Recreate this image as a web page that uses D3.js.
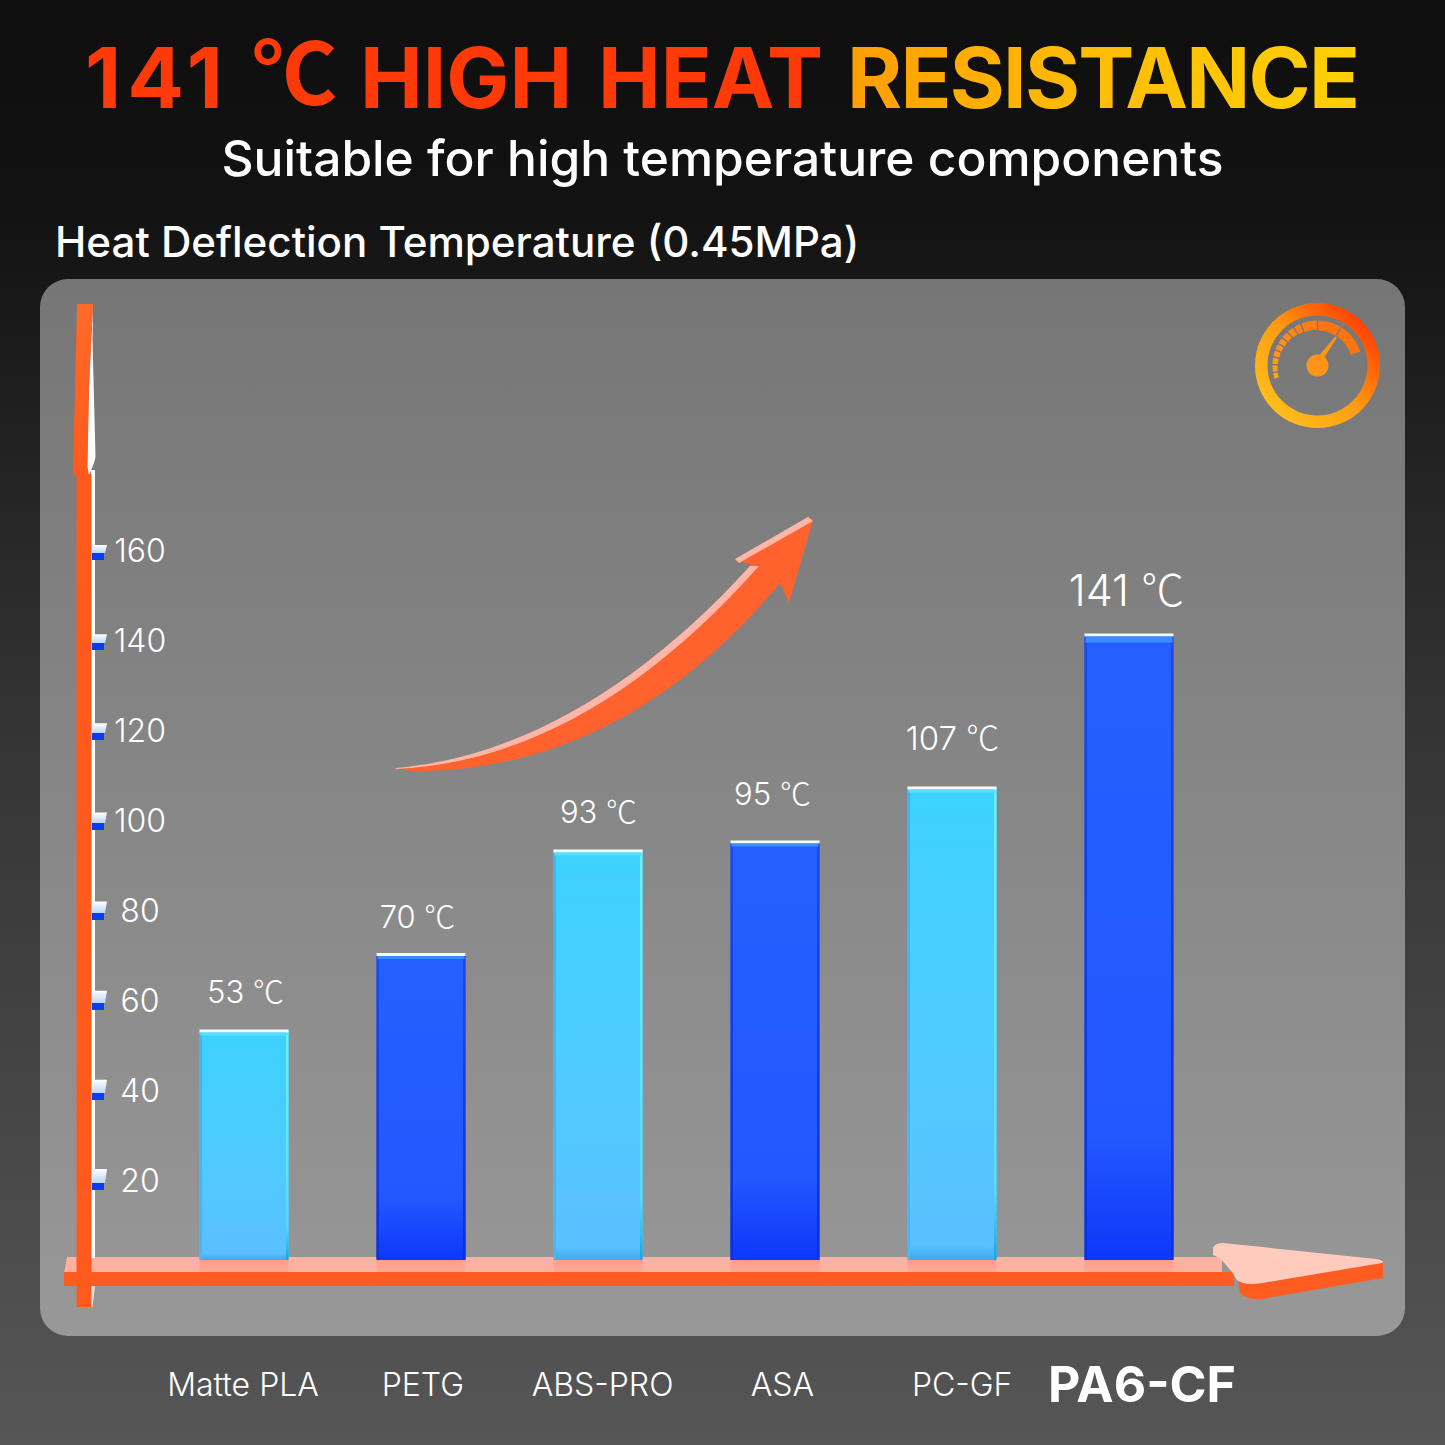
<!DOCTYPE html>
<html>
<head>
<meta charset="utf-8">
<script src="https://cdn.jsdelivr.net/npm/d3@7"></script>
<style>
html,body{margin:0;padding:0;background:#111;}
svg{display:block;}
text{font-family:Inter,"Noto Sans CJK SC",sans-serif;fill:#fff;}
.deg{font-family:"Noto Sans CJK SC",sans-serif;}
</style>
</head>
<body>
<svg id="chart" width="1445" height="1445"></svg>
<script>
// Filament heat deflection temperatures
const materials = ["Matte PLA","PETG","ABS-PRO","ASA","PC-GF","PA6-CF"];
const temperatures = [53,70,93,95,107,141];
const barTones = ["light","deep","light","deep","light","deep"];
const axisTicks = [20,40,60,80,100,120,140,160];
const unit = "℃";
const labelLift = [40,38,40,49,50,45];
const labelSizes = [31,31,31,31,33,43];
const labelNudge = [1,-4,0,-3,0,-3];

const svg = d3.select("#chart");
const defs = svg.append("defs");

function gradient(id, stops, x1=0, y1=0, x2=0, y2=1){
  const g = defs.append("linearGradient").attr("id",id)
    .attr("x1",x1).attr("y1",y1).attr("x2",x2).attr("y2",y2);
  stops.forEach(s=>{
    const st = g.append("stop").attr("offset",s[0]).attr("stop-color",s[1]);
    if(s[2]!==undefined) st.attr("stop-opacity",s[2]);
  });
}
gradient("pageBg",[[0,"#0f0f0f"],[0.14,"#121212"],[0.5,"#343434"],[1,"#565656"]]);
gradient("panelBg",[[0,"#767676"],[1,"#989898"]]);
gradient("lightBar",[[0,"#3cd2ff"],[0.55,"#4fcbff"],[0.97,"#5ac0ff"],[1,"#3fa9ea"]]);
gradient("deepBar",[[0,"#2460ff"],[0.8,"#2358ff"],[1,"#0d38fb"]]);
gradient("lightEdgeL",[[0,"#3fb4ee"],[1,"#4ab6f4"]]);
gradient("lightEdgeR",[[0,"#70f0ff"],[0.85,"#55dcff"],[1,"#14a8e0"]]);
gradient("deepEdge",[[0,"#1d4ae8"],[1,"#0a2fe0"]]);
gradient("tickCap",[[0,"#ffffff"],[1,"#bcd4fa"]]);
gradient("resist",[[0,"#ff9e04"],[0.45,"#ffbb05"],[1,"#ffd006"]],0,0,1,0);
gradient("ring",[[0.12,"#ffc01c"],[0.5,"#ff9a12"],[0.88,"#ff3c00"]],0,1,1,0);
gradient("headTop",[[0,"#ff6a28"],[1,"#ff5a1c"]]);
gradient("barShadow",[[0,"#ff5a30",0.22],[1,"#ff5a30",0]]);

// Page and panel
svg.append("rect").attr("width",1445).attr("height",1445).attr("fill","url(#pageBg)");
svg.append("rect").attr("x",40).attr("y",279).attr("width",1365).attr("height",1057)
  .attr("rx",28).attr("fill","url(#panelBg)");

// Appends "<number> ℃" with the degree sign set in the CJK face
function withUnit(sel, number){
  sel.append("tspan").text(number+" ");
  sel.append("tspan").attr("class","deg").attr("dy","-0.06em").style("letter-spacing","-1px").text(unit);
}

// Headings, one run per colour block
const titleRuns = [
  {start:85, text:"141", fill:"#ff3a08", spacing:6},
  {start:360, text:"HIGH", fill:"#ff3a08", spacing:0},
  {start:598, text:"HEAT", fill:"#ff3a08", spacing:0},
  {start:847, text:"RESISTANCE", fill:"url(#resist)", spacing:-1.7}
];
const titleG = svg.append("g").attr("font-size",84).attr("font-weight",700);
titleRuns.forEach(r=>{
  titleG.append("text").attr("x",r.start).attr("y",108)
    .style("fill",r.fill).style("letter-spacing",r.spacing+"px").text(r.text);
});
titleG.append("text").attr("x",252).attr("y",105).attr("class","deg").attr("font-size",85)
  .attr("font-weight",700).style("fill","#ff3a08").text(unit);

svg.append("text").attr("x",722.5).attr("y",176).attr("text-anchor","middle")
  .attr("font-size",49.7).attr("font-weight",500).text("Suitable for high temperature components");
svg.append("text").attr("x",55).attr("y",257).attr("font-size",42.1).attr("font-weight",500)
  .text("Heat Deflection Temperature (0.45MPa)");

// Scales
const y = d3.scaleLinear().domain([0,160]).range([1269,549]);
const x = d3.scalePoint().domain(materials).range([244,1129]);
const labelX = d3.scalePoint().domain(materials).range([243,1142]);
const barWidth = 89, barBase = 1260;

// Horizontal axis: flat top face, front face and 3D arrowhead
const xAxisArt = svg.append("g");
xAxisArt.append("path").attr("d","M67,1257H1222V1273H64Z").attr("fill","#ffb1a1");
xAxisArt.append("rect").attr("x",64).attr("y",1272).attr("width",1170).attr("height",14).attr("fill","#ff5c22");
xAxisArt.append("path")
  .attr("d","M1231,1271L1238,1280L1240,1293Q1246,1300 1262,1299L1383,1278V1262L1262,1283Z")
  .attr("fill","#ff5c22");
xAxisArt.append("path")
  .attr("d","M1213,1255V1248Q1215,1243 1223,1243L1376,1259Q1386,1261 1382,1263L1262,1283Q1244,1286 1237,1280L1232,1272L1220,1258Z")
  .attr("fill","#ffcbbd");

// Vertical axis with its tall arrowhead
const yAxisArt = svg.append("g");
yAxisArt.append("rect").attr("x",91).attr("y",470).attr("width",4).attr("height",788).attr("fill","#fff");
yAxisArt.append("path").attr("d","M93,304L92.5,340L95.5,457L94,463L88,478L87,467L89,387Z").attr("fill","#fff");
yAxisArt.append("rect").attr("x",76.5).attr("y",474).attr("width",15).attr("height",833).attr("fill","#ff5a1e");
yAxisArt.append("path").attr("d","M91.5,1286H95L92.5,1307H91.5Z").attr("fill","#f4e8e2");
yAxisArt.append("path").attr("d","M77,304H93L89,387L87.5,467L89,475H73Z").attr("fill","url(#headTop)");

// Axis labels and tick blocks
const axisG = svg.append("g").attr("transform","translate(140,0)")
  .call(d3.axisRight(y).tickValues(axisTicks).tickSize(0));
axisG.select(".domain").remove();
axisG.selectAll("text").attr("x",0).attr("y",1).attr("dy",null).attr("dominant-baseline","central")
  .attr("text-anchor","middle").attr("font-size",32).attr("font-weight",300)
  .style("font-family","Inter");

const capHeight = d3.scaleLinear().domain([20,160]).range([14,8]);
const tickMarks = svg.append("g").selectAll("g").data(axisTicks).join("g")
  .attr("transform",d=>`translate(92,${y(d)})`);
tickMarks.append("path")
  .attr("d",d=>`M1,${4-capHeight(d)}L15,${4-capHeight(d)}L13,4H0Z`)
  .attr("fill","url(#tickCap)");
tickMarks.append("rect").attr("x",0).attr("y",4).attr("width",12).attr("height",7).attr("fill","#0a3cf0");

// Bars
const bars = svg.append("g").selectAll("g").data(materials).join("g");
const barTop = (d,i)=>y(temperatures[i]);
const barH = (d,i)=>barBase-y(temperatures[i]);
bars.append("rect")
  .attr("x",d=>x(d)-barWidth/2).attr("width",barWidth).attr("y",barBase).attr("height",20)
  .attr("fill","url(#barShadow)");
bars.append("rect")
  .attr("x",d=>x(d)-barWidth/2).attr("width",barWidth)
  .attr("y",barTop).attr("height",barH).attr("rx",1.5)
  .attr("fill",(d,i)=>barTones[i]==="light"?"url(#lightBar)":"url(#deepBar)");
bars.append("rect")
  .attr("x",d=>x(d)-barWidth/2).attr("width",2.5).attr("y",barTop).attr("height",barH)
  .attr("fill",(d,i)=>barTones[i]==="light"?"url(#lightEdgeL)":"url(#deepEdge)");
bars.append("rect")
  .attr("x",d=>x(d)+barWidth/2-2.5).attr("width",2.5).attr("y",barTop).attr("height",barH)
  .attr("fill",(d,i)=>barTones[i]==="light"?"url(#lightEdgeR)":"url(#deepEdge)");
// Bright bevel along the top of every bar
bars.append("rect")
  .attr("x",d=>x(d)-barWidth/2).attr("width",barWidth)
  .attr("y",(d,i)=>barTop(d,i)-1).attr("height",3)
  .attr("fill","#f2fbff");
bars.append("rect")
  .attr("x",d=>x(d)-barWidth/2+1).attr("width",barWidth-2)
  .attr("y",(d,i)=>barTop(d,i)+2).attr("height",(d,i)=>i===5?6:3)
  .attr("fill",(d,i)=>barTones[i]==="light"?"#5fdcff":"#3d8cff");

// Value labels
svg.append("g").selectAll("text").data(temperatures).join("text")
  .attr("x",(d,i)=>x(materials[i])+labelNudge[i])
  .attr("y",(d,i)=>y(d)-labelLift[i])
  .attr("text-anchor","middle").attr("dominant-baseline","central")
  .attr("font-size",(d,i)=>labelSizes[i]).attr("font-weight",300)
  .each(function(d){ withUnit(d3.select(this), d); });

// Category labels; the last one is emphasised
svg.append("g").selectAll("text").data(materials).join("text")
  .attr("x",d=>labelX(d)).attr("y",1384)
  .attr("text-anchor","middle").attr("dominant-baseline","central")
  .attr("font-size",(d,i)=>i===5?50:32).attr("font-weight",(d,i)=>i===5?700:300).text(d=>d);

// Rising arrow
const arrow = svg.append("g");
arrow.append("path")
  .attr("d","M396,769C520,760 640,690 752,567L747,563L735,561L808,517L813,520L789,603L780,583C700,680 580,772 413,771Z")
  .attr("fill","#ff622c");
arrow.append("path")
  .attr("d","M396,768C520,757 640,687 750,566L759,566C645,694 525,763 396,769Z")
  .attr("fill","#ffb5a8");
arrow.append("path").attr("d","M735,559L808,517L813,521L739,563Z").attr("fill","#ffb5a8");

// Gauge badge
const cx = 1317.5, cy = 365.5;
const gauge = svg.append("g").attr("transform",`translate(${cx},${cy})`);
gauge.append("path")
  .attr("d",d3.arc()({innerRadius:50,outerRadius:62.5,startAngle:0,endAngle:2*Math.PI}))
  .attr("fill","url(#ring)");
const toRad = d=>d*Math.PI/180;
const segments = [[-107,-100,4.5],[-98,-90,5],[-88,-80,5.5],[-78,-71,6],[-69,-62,6.5],[-60,-53,7],[-51,-43,7.5],[-41,-33,8],[-31,-23,8.5],[-21,-1,9],[1,72,10]];
gauge.selectAll("path.seg").data(segments).join("path").attr("class","seg")
  .attr("d",s=>d3.arc()({innerRadius:45-s[2],outerRadius:45,startAngle:toRad(s[0]),endAngle:toRad(s[1])}))
  .attr("fill",s=>d3.interpolateRgb("#ffa61a","#ff7410")((s[0]+107)/108));
gauge.append("path").attr("d","M17.5,-28L26,-42").attr("stroke","#8a7a70").attr("stroke-width",1.6);
gauge.append("path").attr("d","M-2,-6L18,-29L19.5,-28L3,-2Z").attr("fill","#ff9418");
gauge.append("circle").attr("r",11).attr("fill","#ff9418");
</script>
</body>
</html>
